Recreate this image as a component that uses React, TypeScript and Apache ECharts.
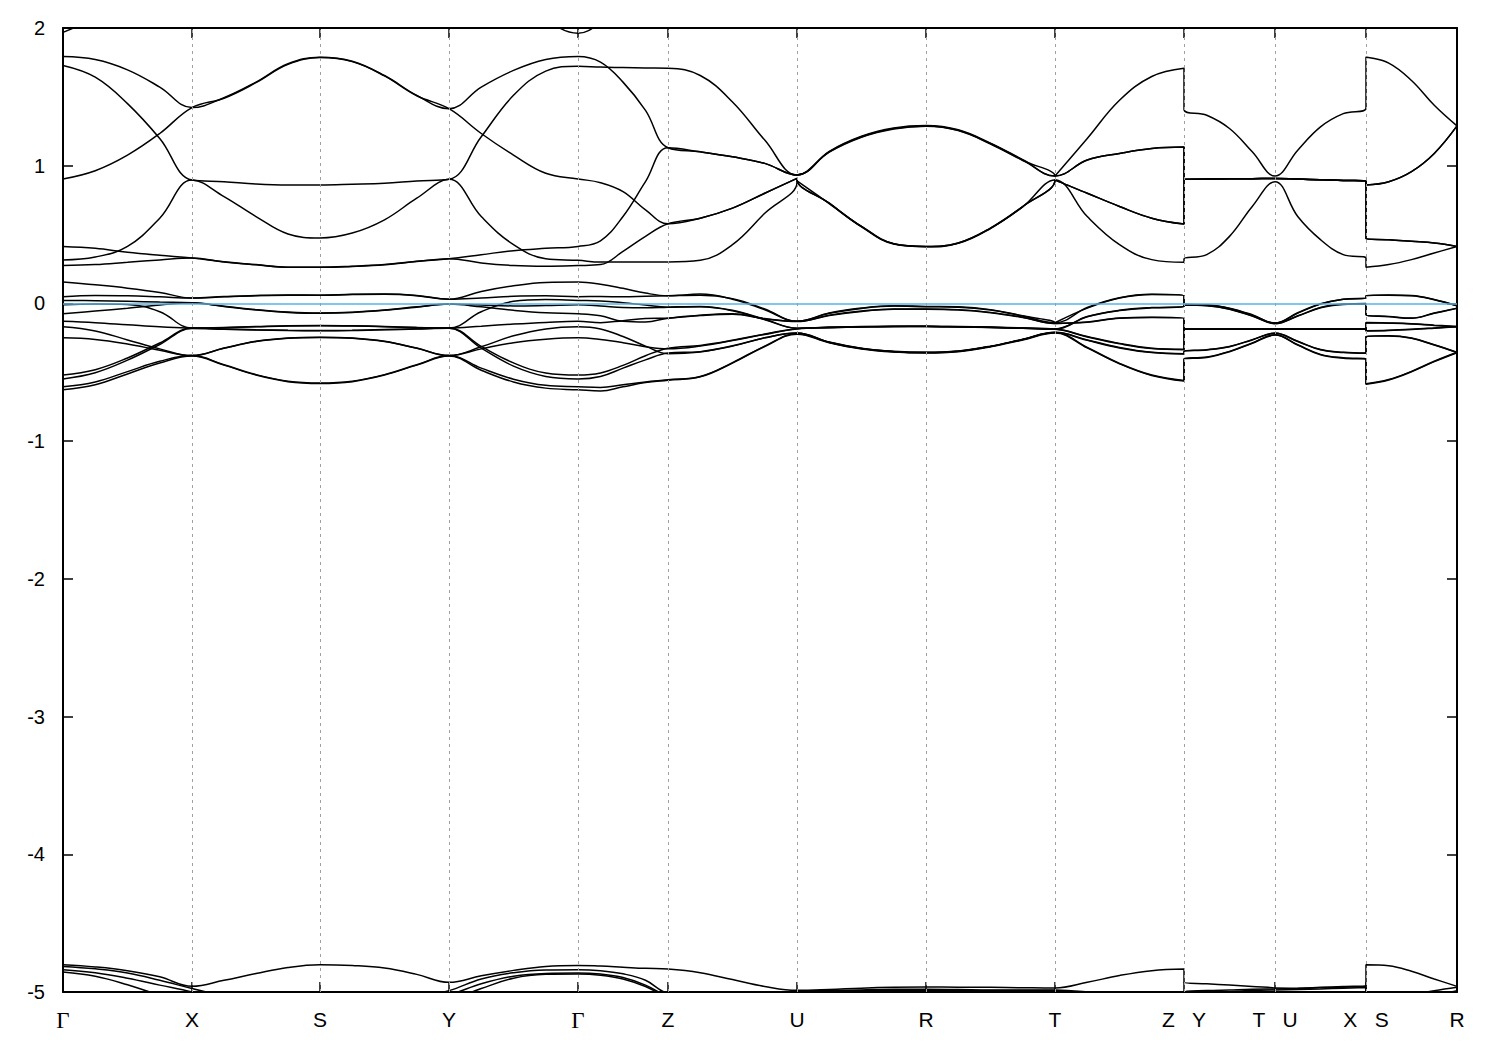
import React, { useEffect, useRef } from "react";
import * as echarts from "echarts";

// k-path positions of the high-symmetry points (path distance, arbitrary units)
const kPath = [0, 129, 257, 386, 515, 605, 734, 863, 992, 1121, 1212, 1303, 1394];
const kLabels = ["Γ", "X", "S", "Y", "Γ", "Z", "U", "R", "T", "Z   Y", "T   U", "X   S", "R"];
// fractions along each segment at which band energies were read
const segFractions = [0, 0.25, 0.5, 0.75, 1];
// segments: Γ-X, X-S, S-Y, Y-Γ, Γ-Z, Z-U, U-R, R-T, T-Z, Y-T, U-X, S-R

// ---- upper bands (0.2 .. 2 eV) ----
const upper0 = [
  [1.968, 2.08, 2.25, 2.4, 2.5], [2.5, 2.5, 2.5, 2.5, 2.5], [2.5, 2.5, 2.5, 2.5, 2.5],
  [2.5, 2.5, 2.4, 2.08, 1.962], [1.962, 2.04, 2.2, 2.4, 2.5], [2.5, 2.5, 2.5, 2.5, 2.5],
  [2.5, 2.5, 2.5, 2.5, 2.5], [2.5, 2.5, 2.5, 2.5, 2.5], [2.5, 2.5, 2.5, 2.5, 2.5],
  [2.5, 2.5, 2.5, 2.5, 2.5], [2.5, 2.5, 2.5, 2.5, 2.5], [2.5, 2.5, 2.5, 2.5, 2.5],
];
const upper1 = [
  [1.793, 1.771, 1.696, 1.571, 1.422], [1.422, 1.494, 1.607, 1.740, 1.788], [1.788, 1.759, 1.655, 1.511, 1.414],
  [1.414, 1.571, 1.692, 1.771, 1.793], [1.793, 1.752, 1.607, 1.402, 1.130], [1.130, 1.101, 1.065, 1.017, 0.933],
  [0.933, 1.101, 1.210, 1.270, 1.289], [1.289, 1.258, 1.161, 1.041, 0.925], [0.925, 1.041, 1.089, 1.125, 1.135],
  [0.901, 0.903, 0.905, 0.906, 0.908], [0.908, 0.903, 0.898, 0.893, 0.889], [0.860, 0.884, 0.957, 1.089, 1.289],
];
const upper2 = [
  [1.728, 1.643, 1.451, 1.198, 0.896], [0.896, 0.884, 0.867, 0.860, 0.860], [0.860, 0.865, 0.872, 0.889, 0.901],
  [0.901, 1.210, 1.511, 1.687, 1.723], [1.723, 1.716, 1.713, 1.710, 1.708], [1.708, 1.655, 1.463, 1.186, 0.933],
  [0.933, 1.098, 1.206, 1.266, 1.286], [1.286, 1.255, 1.158, 1.038, 0.925], [0.920, 1.198, 1.475, 1.648, 1.708],
  [1.410, 1.366, 1.270, 1.101, 0.925], [0.925, 1.113, 1.282, 1.378, 1.419], [1.788, 1.745, 1.619, 1.439, 1.289],
];
const upper3 = [
  [0.904, 0.964, 1.077, 1.234, 1.422], [1.422, 1.490, 1.603, 1.736, 1.785], [1.785, 1.756, 1.652, 1.508, 1.414],
  [1.414, 1.234, 1.077, 0.945, 0.904], [0.904, 0.877, 0.812, 0.680, 0.578], [0.578, 0.619, 0.692, 0.800, 0.908],
  [0.900, 0.728, 0.559, 0.434, 0.414], [0.414, 0.439, 0.547, 0.704, 0.896], [0.900, 0.800, 0.704, 0.619, 0.576],
  [0.901, 0.903, 0.905, 0.906, 0.908], [0.908, 0.903, 0.898, 0.893, 0.889], [0.470, 0.463, 0.451, 0.439, 0.414],
];
const upper4 = [
  [0.316, 0.337, 0.414, 0.619, 0.896], [0.896, 0.776, 0.631, 0.504, 0.475], [0.475, 0.511, 0.607, 0.764, 0.901],
  [0.901, 0.631, 0.427, 0.325, 0.313], [0.313, 0.301, 0.301, 0.301, 0.301], [0.301, 0.313, 0.427, 0.655, 0.880],
  [0.890, 0.725, 0.556, 0.431, 0.411], [0.411, 0.436, 0.544, 0.701, 0.896], [0.896, 0.631, 0.427, 0.318, 0.299],
  [0.323, 0.354, 0.487, 0.704, 0.884], [0.884, 0.631, 0.463, 0.354, 0.328], [0.263, 0.282, 0.318, 0.366, 0.414],
];
const upper5 = [
  [0.414, 0.400, 0.371, 0.349, 0.330], [0.330, 0.303, 0.282, 0.263, 0.263], [0.263, 0.270, 0.282, 0.306, 0.325],
  [0.325, 0.354, 0.383, 0.400, 0.414], [0.414, 0.455, 0.631, 0.884, 1.130], [1.130, 1.101, 1.065, 1.017, 0.933],
  [0.933, 1.104, 1.214, 1.274, 1.292], [1.292, 1.261, 1.164, 1.044, 0.925], [0.925, 1.041, 1.089, 1.125, 1.135],
  [0.901, 0.903, 0.905, 0.906, 0.908], [0.908, 0.903, 0.898, 0.893, 0.889], [0.860, 0.884, 0.957, 1.089, 1.289],
];
const upper6 = [
  [0.275, 0.282, 0.299, 0.316, 0.330], [0.330, 0.300, 0.280, 0.262, 0.262], [0.262, 0.268, 0.280, 0.304, 0.325],
  [0.325, 0.294, 0.275, 0.270, 0.275], [0.275, 0.282, 0.378, 0.487, 0.578], [0.578, 0.619, 0.692, 0.800, 0.908],
  [0.900, 0.728, 0.559, 0.434, 0.414], [0.414, 0.439, 0.547, 0.704, 0.896], [0.900, 0.800, 0.704, 0.619, 0.576],
  [0.901, 0.903, 0.905, 0.906, 0.908], [0.908, 0.903, 0.898, 0.893, 0.889], [0.470, 0.463, 0.451, 0.439, 0.414],
];

// ---- bands around the Fermi level (-0.65 .. 0.2 eV) ----
const fermi1 = [
  [0.155, 0.135, 0.111, 0.080, 0.039], [0.039, 0.050, 0.058, 0.061, 0.060], [0.060, 0.066, 0.068, 0.058, 0.031],
  [0.031, 0.087, 0.128, 0.152, 0.155], [0.155, 0.140, 0.110, 0.075, 0.056], [0.056, 0.068, 0.031, -0.046, -0.130],
  [-0.130, -0.070, -0.034, -0.017, -0.022], [-0.022, -0.025, -0.045, -0.090, -0.140], [-0.143, -0.034, 0.039, 0.065, 0.056],
  [-0.005, -0.010, -0.034, -0.082, -0.143], [-0.143, -0.070, -0.005, 0.030, 0.039], [0.056, 0.060, 0.056, 0.027, -0.017],
];
const fermi2 = [
  [0.049, 0.058, 0.056, 0.048, 0.039], [0.039, 0.048, 0.056, 0.060, 0.060], [0.060, 0.064, 0.066, 0.056, 0.031],
  [0.031, 0.040, 0.052, 0.055, 0.049], [0.049, 0.050, 0.048, 0.052, 0.056], [0.056, 0.060, 0.035, -0.040, -0.130],
  [-0.130, -0.072, -0.036, -0.019, -0.024], [-0.024, -0.027, -0.047, -0.092, -0.140], [-0.140, -0.030, 0.041, 0.066, 0.056],
  [-0.005, -0.012, -0.036, -0.085, -0.143], [-0.143, -0.068, -0.003, 0.031, 0.039], [0.056, 0.061, 0.057, 0.028, -0.017],
];
const fermi3 = [
  [0.022, 0.020, 0.016, 0.010, 0.005], [0.005, -0.020, -0.045, -0.063, -0.070], [-0.070, -0.064, -0.048, -0.025, -0.005],
  [-0.005, -0.012, -0.018, -0.015, -0.010], [-0.010, -0.018, -0.030, -0.032, -0.027], [-0.027, -0.022, -0.050, -0.115, -0.180],
  [-0.180, -0.172, -0.168, -0.165, -0.165], [-0.165, -0.168, -0.172, -0.178, -0.185], [-0.185, -0.095, -0.050, -0.030, -0.022],
  [-0.010, -0.015, -0.040, -0.090, -0.145], [-0.145, -0.090, -0.030, -0.005, 0.000], [-0.082, -0.094, -0.106, -0.070, -0.034],
];
const fermi4 = [
  [-0.010, -0.005, -0.008, -0.060, -0.179], [-0.179, -0.174, -0.168, -0.162, -0.160], [-0.160, -0.162, -0.167, -0.174, -0.179],
  [-0.179, -0.060, 0.015, 0.028, 0.022], [0.022, 0.018, 0.005, -0.012, -0.027], [-0.027, -0.025, -0.053, -0.118, -0.180],
  [-0.180, -0.174, -0.170, -0.167, -0.167], [-0.167, -0.170, -0.174, -0.180, -0.187], [-0.187, -0.097, -0.052, -0.032, -0.024],
  [-0.012, -0.017, -0.042, -0.092, -0.147], [-0.147, -0.092, -0.032, -0.007, -0.002], [-0.084, -0.096, -0.108, -0.072, -0.036],
];
const fermi5 = [
  [-0.075, -0.055, -0.035, -0.012, 0.005], [0.005, -0.022, -0.047, -0.065, -0.072], [-0.072, -0.066, -0.050, -0.027, -0.005],
  [-0.005, -0.025, -0.050, -0.068, -0.075], [-0.075, -0.090, -0.130, -0.135, -0.107], [-0.107, -0.085, -0.075, -0.110, -0.130],
  [-0.130, -0.085, -0.055, -0.040, -0.040], [-0.040, -0.045, -0.065, -0.100, -0.145], [-0.145, -0.135, -0.105, -0.100, -0.107],
  [-0.186, -0.186, -0.186, -0.186, -0.186], [-0.186, -0.186, -0.186, -0.186, -0.186], [-0.138, -0.142, -0.148, -0.158, -0.167],
];
const fermi6 = [
  [-0.130, -0.140, -0.155, -0.170, -0.179], [-0.179, -0.176, -0.170, -0.164, -0.162], [-0.162, -0.164, -0.169, -0.175, -0.179],
  [-0.179, -0.165, -0.150, -0.138, -0.130], [-0.130, -0.140, -0.125, -0.110, -0.107], [-0.107, -0.088, -0.078, -0.112, -0.132],
  [-0.132, -0.088, -0.058, -0.043, -0.042], [-0.042, -0.047, -0.067, -0.102, -0.145], [-0.145, -0.137, -0.107, -0.102, -0.109],
  [-0.188, -0.188, -0.188, -0.188, -0.188], [-0.188, -0.188, -0.188, -0.188, -0.188], [-0.140, -0.144, -0.150, -0.160, -0.169],
];
const fermi7 = [
  [-0.170, -0.200, -0.265, -0.330, -0.379], [-0.379, -0.324, -0.275, -0.251, -0.245], [-0.245, -0.251, -0.275, -0.324, -0.379],
  [-0.379, -0.315, -0.235, -0.185, -0.170], [-0.170, -0.185, -0.240, -0.310, -0.365], [-0.365, -0.352, -0.310, -0.250, -0.215],
  [-0.215, -0.280, -0.325, -0.348, -0.355], [-0.355, -0.345, -0.310, -0.260, -0.210], [-0.210, -0.265, -0.320, -0.355, -0.365],
  [-0.348, -0.336, -0.312, -0.263, -0.215], [-0.215, -0.275, -0.335, -0.355, -0.360], [-0.239, -0.234, -0.251, -0.300, -0.355],
];
const fermi8 = [
  [-0.250, -0.262, -0.295, -0.340, -0.379], [-0.379, -0.326, -0.277, -0.253, -0.247], [-0.247, -0.253, -0.277, -0.326, -0.379],
  [-0.379, -0.330, -0.285, -0.260, -0.250], [-0.250, -0.262, -0.285, -0.315, -0.330], [-0.330, -0.310, -0.270, -0.225, -0.185],
  [-0.185, -0.175, -0.170, -0.167, -0.166], [-0.166, -0.169, -0.173, -0.179, -0.186], [-0.186, -0.240, -0.290, -0.325, -0.333],
  [-0.186, -0.186, -0.186, -0.186, -0.186], [-0.186, -0.186, -0.186, -0.186, -0.186], [-0.198, -0.195, -0.188, -0.178, -0.167],
];
const fermi9 = [
  [-0.520, -0.481, -0.396, -0.287, -0.179], [-0.179, -0.185, -0.191, -0.195, -0.196], [-0.196, -0.195, -0.190, -0.184, -0.179],
  [-0.179, -0.312, -0.432, -0.505, -0.520], [-0.520, -0.505, -0.450, -0.380, -0.325], [-0.325, -0.305, -0.268, -0.222, -0.183],
  [-0.183, -0.176, -0.171, -0.168, -0.168], [-0.168, -0.171, -0.175, -0.181, -0.188], [-0.188, -0.243, -0.293, -0.328, -0.336],
  [-0.188, -0.188, -0.188, -0.188, -0.188], [-0.188, -0.188, -0.188, -0.188, -0.188], [-0.200, -0.197, -0.190, -0.180, -0.169],
];
const fermi10 = [
  [-0.548, -0.503, -0.412, -0.298, -0.182], [-0.182, -0.188, -0.193, -0.197, -0.198], [-0.198, -0.197, -0.192, -0.186, -0.181],
  [-0.181, -0.325, -0.455, -0.530, -0.548], [-0.548, -0.530, -0.470, -0.410, -0.360], [-0.360, -0.350, -0.308, -0.250, -0.215],
  [-0.215, -0.282, -0.327, -0.350, -0.357], [-0.357, -0.347, -0.312, -0.262, -0.212], [-0.212, -0.268, -0.323, -0.357, -0.367],
  [-0.350, -0.338, -0.314, -0.265, -0.217], [-0.217, -0.277, -0.337, -0.357, -0.362], [-0.241, -0.236, -0.253, -0.302, -0.357],
];
const fermi11 = [
  [-0.605, -0.570, -0.495, -0.420, -0.379], [-0.379, -0.445, -0.517, -0.565, -0.578], [-0.578, -0.565, -0.517, -0.445, -0.379],
  [-0.379, -0.470, -0.550, -0.595, -0.605], [-0.605, -0.610, -0.590, -0.570, -0.555], [-0.555, -0.530, -0.430, -0.310, -0.220],
  [-0.220, -0.283, -0.328, -0.350, -0.357], [-0.357, -0.347, -0.312, -0.262, -0.212], [-0.212, -0.320, -0.435, -0.520, -0.560],
  [-0.403, -0.389, -0.348, -0.287, -0.227], [-0.227, -0.300, -0.370, -0.395, -0.403], [-0.584, -0.553, -0.493, -0.420, -0.355],
];
const fermi12 = [
  [-0.627, -0.590, -0.512, -0.432, -0.382], [-0.382, -0.448, -0.520, -0.568, -0.581], [-0.581, -0.568, -0.520, -0.448, -0.382],
  [-0.382, -0.485, -0.570, -0.615, -0.627], [-0.627, -0.635, -0.605, -0.575, -0.558], [-0.558, -0.533, -0.433, -0.313, -0.223],
  [-0.223, -0.286, -0.331, -0.353, -0.360], [-0.360, -0.350, -0.315, -0.265, -0.215], [-0.215, -0.323, -0.438, -0.523, -0.563],
  [-0.406, -0.392, -0.351, -0.290, -0.230], [-0.230, -0.303, -0.373, -0.398, -0.406], [-0.587, -0.556, -0.496, -0.423, -0.358],
];

// ---- deep bands near -5 eV ----
const deep1 = [
  [-4.802, -4.818, -4.845, -4.890, -4.959], [-4.959, -4.915, -4.866, -4.822, -4.802], [-4.802, -4.808, -4.826, -4.872, -4.930],
  [-4.930, -4.882, -4.843, -4.814, -4.807], [-4.807, -4.812, -4.820, -4.828, -4.833], [-4.833, -4.860, -4.910, -4.960, -4.988],
  [-4.988, -4.982, -4.972, -4.966, -4.964], [-4.964, -4.965, -4.966, -4.969, -4.971], [-4.971, -4.930, -4.880, -4.845, -4.833],
  [-4.930, -4.940, -4.950, -4.960, -4.971], [-4.975, -4.972, -4.966, -4.960, -4.954], [-4.802, -4.810, -4.850, -4.905, -4.959],
];
const deep2 = [
  [-4.814, -4.832, -4.862, -4.915, -4.975], [-4.975, -5.03, -5.08, -5.10, -5.10], [-5.10, -5.10, -5.08, -5.04, -4.99],
  [-4.99, -4.905, -4.860, -4.840, -4.838], [-4.838, -4.845, -4.868, -4.915, -5.01], [-5.01, -5.03, -5.03, -5.01, -4.995],
  [-4.995, -4.990, -4.985, -4.980, -4.980], [-4.980, -4.982, -4.985, -4.985, -4.985], [-4.985, -5.00, -5.03, -5.06, -5.08],
  [-5.00, -4.990, -4.985, -4.980, -4.978], [-4.978, -4.975, -4.970, -4.965, -4.962], [-5.05, -5.04, -5.02, -4.99, -4.965],
];
const deep3 = [
  [-4.838, -4.860, -4.900, -4.950, -5.00], [-5.00, -5.06, -5.10, -5.10, -5.10], [-5.10, -5.10, -5.10, -5.06, -5.02],
  [-5.02, -4.940, -4.885, -4.865, -4.862], [-4.862, -4.870, -4.895, -4.950, -5.03], [-5.03, -5.06, -5.05, -5.02, -5.00],
  [-5.00, -4.995, -4.990, -4.988, -4.988], [-4.988, -4.990, -4.990, -4.990, -4.990], [-4.990, -5.02, -5.06, -5.10, -5.10],
  [-5.10, -5.05, -5.00, -4.990, -4.985], [-4.985, -4.982, -4.978, -4.972, -4.968], [-5.10, -5.10, -5.08, -5.03, -4.99],
];
const deep4 = [
  [-4.855, -4.886, -4.947, -5.02, -5.06], [-5.06, -5.10, -5.10, -5.10, -5.10], [-5.10, -5.10, -5.10, -5.10, -5.06],
  [-5.06, -4.975, -4.900, -4.872, -4.869], [-4.869, -4.878, -4.905, -4.960, -5.04], [-5.04, -5.10, -5.10, -5.10, -5.10],
  [-5.10, -5.10, -5.10, -5.10, -5.10], [-5.10, -5.10, -5.10, -5.10, -5.10], [-5.10, -5.10, -5.10, -5.10, -5.10],
  [-5.10, -5.10, -5.10, -5.10, -5.10], [-5.10, -5.10, -5.10, -5.10, -5.10], [-5.10, -5.10, -5.10, -5.10, -5.10],
];

const bands = [
  upper0, upper1, upper2, upper3, upper4, upper5, upper6,
  fermi1, fermi2, fermi3, fermi4, fermi5, fermi6, fermi7, fermi8, fermi9, fermi10, fermi11, fermi12,
  deep1, deep2, deep3, deep4,
];

function bandPoints(band: number[][]): [number, number][] {
  const pts: [number, number][] = [];
  band.forEach((seg, s) => {
    const x0 = kPath[s];
    const x1 = kPath[s + 1];
    seg.forEach((v, i) => pts.push([x0 + segFractions[i] * (x1 - x0), v]));
  });
  return pts;
}

function labelFor(v: number): string {
  const i = kPath.findIndex((k) => Math.abs(k - v) < 0.5);
  if (i < 0) return "";
  const s = kLabels[i];
  return s === "Γ" ? "{g|Γ}" : s;
}

export default function App() {
  const ref = useRef<HTMLDivElement>(null);
  useEffect(() => {
    if (!ref.current) return;
    const chart = echarts.init(ref.current, null, { renderer: "svg" });
    const kMax = kPath[kPath.length - 1];
    const tickStyle = { color: "#000", width: 1.5 };
    const lineStyle = { color: "#000", width: 2 };
    const series: any[] = bands.map((b, i) => ({
      type: "line",
      name: "band" + i,
      data: bandPoints(b),
      showSymbol: false,
      symbol: "none",
      smooth: 0.4,
      clip: true,
      silent: true,
      z: 3,
      lineStyle: { color: "#000", width: 1.5 },
    }));
    series.push({
      type: "line",
      name: "kgrid",
      data: [],
      silent: true,
      z: 1,
      markLine: {
        silent: true,
        symbol: ["none", "none"],
        label: { show: false },
        lineStyle: { type: [3, 4], color: "#a0a0a0", width: 1 },
        data: kPath.slice(1, kPath.length - 1).map((k) => ({ xAxis: k })),
      },
    });
    series.push({
      type: "line",
      name: "fermi",
      data: [],
      silent: true,
      z: 6,
      markLine: {
        silent: true,
        symbol: ["none", "none"],
        label: { show: false },
        lineStyle: { type: "solid", color: "#56B4E9", width: 1.6 },
        data: [{ yAxis: 0 }],
      },
    });
    chart.setOption({
      animation: false,
      backgroundColor: "#fff",
      grid: { left: 63, right: 43, top: 28, bottom: 58, containLabel: false },
      xAxis: [
        {
          type: "value",
          min: 0,
          max: kMax,
          position: "bottom",
          axisLine: { show: true, onZero: false, lineStyle },
          axisTick: { show: true, inside: true, length: 10, customValues: kPath, lineStyle: tickStyle },
          axisLabel: {
            show: true,
            customValues: kPath,
            formatter: (v: number) => labelFor(v),
            margin: 17,
            fontSize: 21,
            color: "#000",
            fontFamily: "Liberation Sans",
            rich: { g: { fontFamily: "Liberation Serif", fontSize: 23, color: "#000" } },
          },
          splitLine: { show: false },
        },
        {
          type: "value",
          min: 0,
          max: kMax,
          position: "top",
          axisLine: { show: true, onZero: false, lineStyle },
          axisTick: { show: true, inside: true, length: 10, customValues: kPath, lineStyle: tickStyle },
          axisLabel: { show: false },
          splitLine: { show: false },
        },
      ],
      yAxis: [
        {
          type: "value",
          min: -5,
          max: 2,
          interval: 1,
          position: "left",
          axisLine: { show: true, onZero: false, lineStyle },
          axisTick: { show: true, inside: true, length: 10, lineStyle: tickStyle },
          axisLabel: { fontSize: 20, color: "#000", fontFamily: "Liberation Sans", margin: 18 },
          splitLine: { show: false },
        },
        {
          type: "value",
          min: -5,
          max: 2,
          interval: 1,
          position: "right",
          axisLine: { show: true, onZero: false, lineStyle },
          axisTick: { show: true, inside: true, length: 10, lineStyle: tickStyle },
          axisLabel: { show: false },
          splitLine: { show: false },
        },
      ],
      series,
    });
    return () => chart.dispose();
  }, []);
  return (
    <div
      ref={ref}
      style={{ position: "absolute", left: 0, top: 0, width: 1500, height: 1050, background: "#fff" }}
    />
  );
}
